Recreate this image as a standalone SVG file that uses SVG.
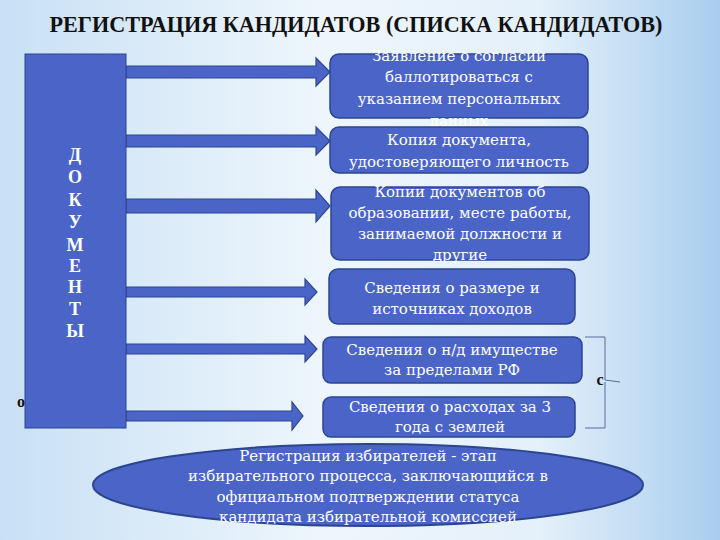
<svg xmlns="http://www.w3.org/2000/svg" width="720" height="540" viewBox="0 0 720 540">
<defs>
<linearGradient id="bg" x1="0" y1="0" x2="1" y2="0">
<stop offset="0" stop-color="#c8e0f5"/>
<stop offset="0.45" stop-color="#eef6fc"/>
<stop offset="0.75" stop-color="#e4f0fa"/>
<stop offset="1" stop-color="#a8cdee"/>
</linearGradient>
<style>
.box{fill:#4a64c8;stroke:#2c4590;stroke-width:1.5}
.arr{fill:#4a64c8;stroke:#2c4590;stroke-width:1.2}
.t{font-family:"DejaVu Serif","Liberation Serif",serif;font-size:15px;fill:#ffffff;text-anchor:middle}
.v{font-family:"Liberation Serif","DejaVu Serif",serif;font-size:18px;font-weight:bold;fill:#ffffff;text-anchor:middle}
.e{font-family:"DejaVu Serif","Liberation Serif",serif;font-size:15px;fill:#ffffff;text-anchor:middle}
</style>
</defs>
<rect x="0" y="0" width="720" height="540" fill="url(#bg)"/>
<text x="356" y="32" font-family="Liberation Serif, serif" font-size="23" font-weight="bold" fill="#111111" text-anchor="middle" textLength="613" lengthAdjust="spacingAndGlyphs">РЕГИСТРАЦИЯ КАНДИДАТОВ (СПИСКА КАНДИДАТОВ)</text>

<g id="connectors">
<polygon class="arr" points="126,66 316,66 316,58 330,72 316,86 316,78 126,78"/>
<polygon class="arr" points="126,135 316,135 316,127 330,141 316,155 316,147 126,147"/>
<polygon class="arr" points="126,199 316,199 316,190 330,206 316,222 316,213 126,213"/>
<polygon class="arr" points="126,287 305,287 305,279 317,292 305,305 305,297 126,297"/>
<polygon class="arr" points="126,344 305,344 305,336 317,349 305,362 305,354 126,354"/>
<polygon class="arr" points="126,411 292,411 292,402 303,416 292,430 292,421 126,421"/>
</g>

<g id="docs">
<rect x="25" y="54" width="101" height="374" fill="#4a64c8" stroke="#2c4590" stroke-width="1"/>
<text class="v" x="75" y="161">Д</text>
<text class="v" x="75" y="183">О</text>
<text class="v" x="75" y="206">К</text>
<text class="v" x="75" y="228">У</text>
<text class="v" x="75" y="251">М</text>
<text class="v" x="75" y="272">Е</text>
<text class="v" x="75" y="293">Н</text>
<text class="v" x="75" y="315">Т</text>
<text class="v" x="75" y="337">Ы</text>
</g>

<g id="box1">
<rect class="box" x="330" y="54" width="258" height="64" rx="9"/>
<text class="t" x="459" y="61">Заявление о согласии</text>
<text class="t" x="459" y="82">баллотироваться с</text>
<text class="t" x="459" y="104">указанием персональных</text>
<text class="t" x="459" y="126">данных</text>
</g>
<g id="box2">
<rect class="box" x="330" y="127" width="258" height="46" rx="9"/>
<text class="t" x="459" y="145">Копия документа,</text>
<text class="t" x="459" y="167">удостоверяющего личность</text>
</g>
<g id="box3">
<rect class="box" x="331" y="187" width="258" height="73" rx="9"/>
<text class="t" x="460" y="197">Копии документов об</text>
<text class="t" x="460" y="218">образовании, месте работы,</text>
<text class="t" x="460" y="239">занимаемой должности и</text>
<text class="t" x="460" y="260">другие</text>
</g>
<g id="box4">
<rect class="box" x="329" y="269" width="246" height="55" rx="9"/>
<text class="t" x="452" y="293">Сведения о размере и</text>
<text class="t" x="452" y="314">источниках доходов</text>
</g>
<g id="box5">
<rect class="box" x="323" y="337" width="259" height="46" rx="8"/>
<text class="t" x="452" y="355">Сведения о н/д имуществе</text>
<text class="t" x="452" y="375">за пределами РФ</text>
</g>
<g id="box6">
<rect class="box" x="323" y="397" width="252" height="40" rx="8"/>
<text class="t" x="450" y="412">Сведения о расходах за 3</text>
<text class="t" x="450" y="432">года с землей</text>
</g>

<g id="brace">
<path d="M585,337 L605,337 L605,380 L620,382 M605,382 L605,428 L585,428" fill="none" stroke="#5a6a9c" stroke-width="1"/>
<text x="600" y="385" font-family="Liberation Serif, serif" font-size="16" font-weight="bold" fill="#111111" text-anchor="middle">с</text>
</g>
<text x="21" y="407" font-family="Liberation Serif, serif" font-size="16" font-weight="bold" fill="#111111" text-anchor="middle">о</text>

<g id="definition">
<ellipse cx="368" cy="485" rx="275" ry="41" fill="#4a64c8" stroke="#2c4590" stroke-width="2"/>
<text class="e" x="368" y="461">Регистрация избирателей - этап</text>
<text class="e" x="368" y="481">избирательного процесса, заключающийся в</text>
<text class="e" x="368" y="502">официальном подтверждении статуса</text>
<text class="e" x="368" y="522">кандидата избирательной комиссией</text>
</g>
</svg>
